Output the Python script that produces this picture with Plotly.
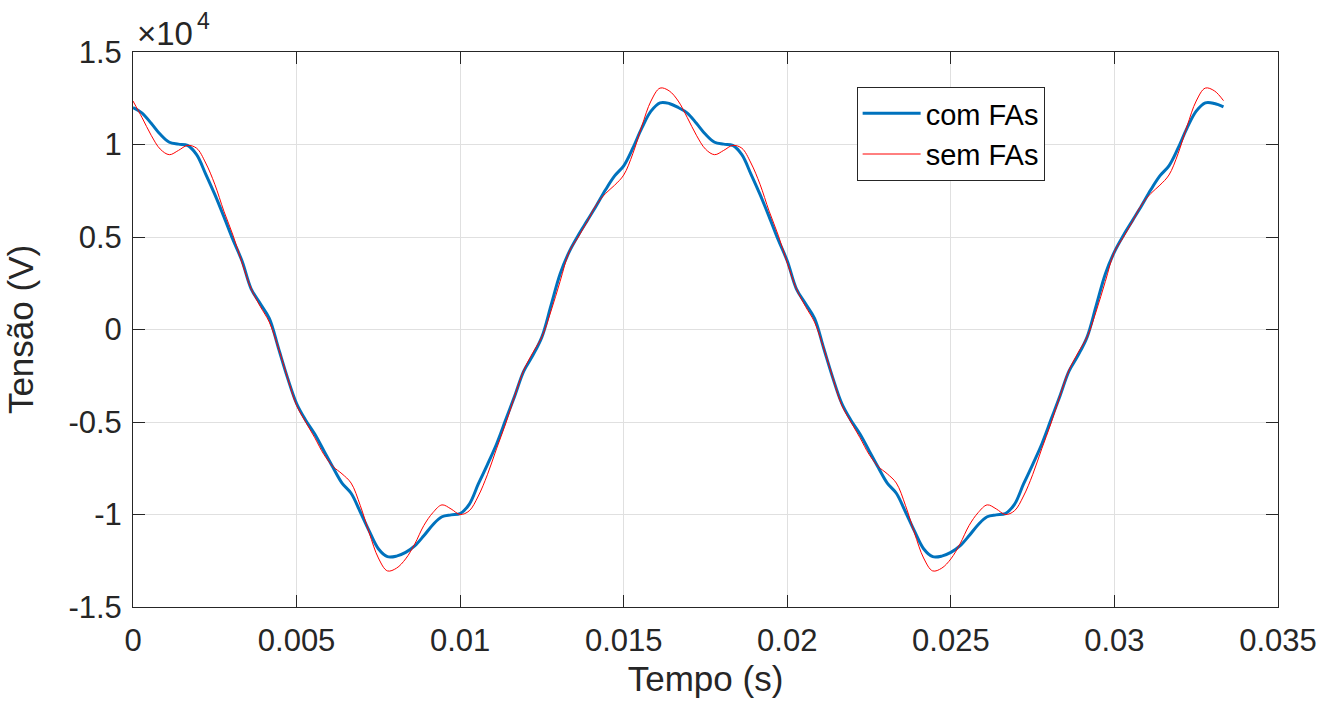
import numpy as np
import plotly.graph_objects as go

# sampling instants (s): two periods of 60 Hz, 60 samples per period
tempo = np.linspace(0, 2 / 60, 121)

# Tensão (x10^4 V)
com_fas = [
    1.200, 1.170, 1.115, 1.055, 1.012, 1.002, 0.995, 0.945, 0.840, 0.730,
    0.610, 0.485, 0.370, 0.220, 0.140, 0.060, -0.100, -0.260, -0.400, -0.490,
    -0.565, -0.655, -0.745, -0.830, -0.885, -0.985, -1.090, -1.185, -1.228, -1.225,
    -1.205, -1.170, -1.115, -1.055, -1.012, -1.002, -0.995, -0.945, -0.835, -0.730,
    -0.620, -0.490, -0.360, -0.225, -0.140, -0.040, 0.130, 0.300, 0.420, 0.510,
    0.590, 0.670, 0.755, 0.830, 0.885, 0.980, 1.090, 1.180, 1.225, 1.222,
    1.200, 1.170, 1.115, 1.055, 1.012, 1.002, 0.995, 0.945, 0.840, 0.730,
    0.610, 0.485, 0.370, 0.220, 0.140, 0.060, -0.100, -0.260, -0.400, -0.490,
    -0.565, -0.655, -0.745, -0.830, -0.885, -0.985, -1.090, -1.185, -1.228, -1.225,
    -1.205, -1.170, -1.115, -1.055, -1.012, -1.002, -0.995, -0.945, -0.835, -0.730,
    -0.620, -0.490, -0.360, -0.225, -0.140, -0.040, 0.130, 0.300, 0.420, 0.510,
    0.590, 0.670, 0.755, 0.830, 0.885, 0.980, 1.090, 1.180, 1.225, 1.222,
    1.204,
]

sem_fas = [
    1.235, 1.145, 1.050, 0.975, 0.945, 0.968, 0.995, 0.980, 0.900, 0.785,
    0.640, 0.510, 0.360, 0.220, 0.125, 0.040, -0.100, -0.260, -0.410, -0.500,
    -0.585, -0.675, -0.740, -0.780, -0.830, -0.950, -1.100, -1.235, -1.305, -1.290,
    -1.240, -1.160, -1.060, -0.990, -0.948, -0.970, -1.000, -0.980, -0.900, -0.785,
    -0.645, -0.510, -0.360, -0.220, -0.125, -0.040, 0.100, 0.260, 0.420, 0.500,
    0.585, 0.675, 0.735, 0.780, 0.835, 0.950, 1.100, 1.235, 1.305, 1.290,
    1.235, 1.145, 1.050, 0.975, 0.945, 0.968, 0.995, 0.980, 0.900, 0.785,
    0.640, 0.510, 0.360, 0.220, 0.125, 0.040, -0.100, -0.260, -0.410, -0.500,
    -0.585, -0.675, -0.740, -0.780, -0.830, -0.950, -1.100, -1.235, -1.305, -1.290,
    -1.240, -1.160, -1.060, -0.990, -0.948, -0.970, -1.000, -0.980, -0.900, -0.785,
    -0.645, -0.510, -0.360, -0.220, -0.125, -0.040, 0.100, 0.260, 0.420, 0.500,
    0.585, 0.675, 0.735, 0.780, 0.835, 0.950, 1.100, 1.235, 1.305, 1.290,
    1.237,
]

x_ticks = [0, 0.005, 0.01, 0.015, 0.02, 0.025, 0.03, 0.035]
x_labels = ["0", "0.005", "0.01", "0.015", "0.02", "0.025", "0.03", "0.035"]
y_ticks = [-1.5, -1, -0.5, 0, 0.5, 1, 1.5]
y_labels = ["-1.5", "-1", "-0.5", "0", "0.5", "1", "1.5"]

FONT = "Liberation Sans, Arial, Helvetica, sans-serif"
AX = "#262626"

fig = go.Figure()
fig.add_trace(go.Scatter(x=tempo, y=com_fas, name="com FAs", mode="lines",
                         line=dict(color="#0072BD", width=3, shape="spline")))
fig.add_trace(go.Scatter(x=tempo, y=sem_fas, name="sem FAs", mode="lines",
                         line=dict(color="#FF0000", width=1, shape="spline")))

axis_common = dict(showline=True, linecolor=AX, linewidth=1, mirror="ticks",
                   ticks="inside", ticklen=12, tickcolor=AX, tickwidth=1,
                   showgrid=True, gridcolor="#e0e0e0", gridwidth=1,
                   zeroline=False, tickfont=dict(family=FONT, size=31, color=AX))

fig.update_layout(
    width=1339, height=703,
    margin=dict(l=133, r=61, t=52, b=96),
    paper_bgcolor="white", plot_bgcolor="white",
    font=dict(family=FONT, color=AX),
    xaxis=dict(range=[0, 0.035], tickvals=x_ticks, ticktext=x_labels,
               ticklabelstandoff=6,
               title=dict(text="Tempo (s)", font=dict(family=FONT, size=35, color=AX),
                          standoff=9),
               **axis_common),
    yaxis=dict(range=[-1.5, 1.5], tickvals=y_ticks, ticktext=y_labels,
               ticklabelstandoff=4,
               title=dict(text="Tensão (V)", font=dict(family=FONT, size=35, color=AX),
                          standoff=24),
               **axis_common),
    legend=dict(x=0.632, y=0.937, xanchor="left", yanchor="top",
                bgcolor="white", bordercolor=AX, borderwidth=1,
                font=dict(family=FONT, size=29, color="black"),
                itemwidth=58, tracegroupgap=0),
    showlegend=True,
)

fig.add_annotation(xref="paper", yref="paper", x=0, y=1, xanchor="left", yanchor="bottom",
                   text="×10", showarrow=False, xshift=2, yshift=-2,
                   font=dict(family=FONT, size=33, color=AX))
fig.add_annotation(xref="paper", yref="paper", x=0, y=1, xanchor="left", yanchor="bottom",
                   text="4", showarrow=False, xshift=62, yshift=16,
                   font=dict(family=FONT, size=23, color=AX))

fig.write_html("out.html")
